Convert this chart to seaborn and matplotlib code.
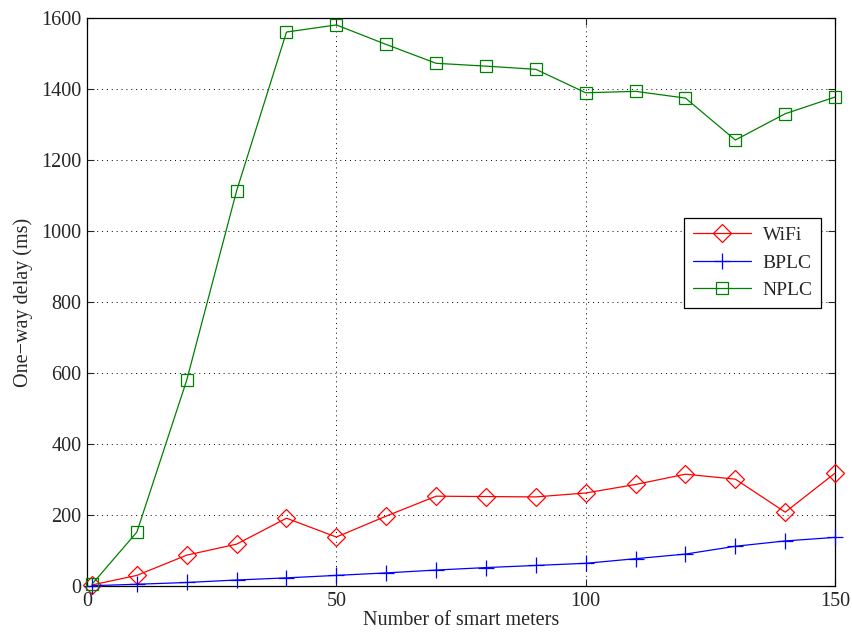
import numpy as np
import pandas as pd
import matplotlib
matplotlib.use("Agg")
import matplotlib.pyplot as plt
import seaborn as sns

# smart meters on x, one-way delay (ms) per technology
meters = [1, 10, 20, 30, 40, 50, 60, 70, 80, 90, 100, 110, 120, 130, 140, 150]
wifi = [3, 30, 87, 118, 191, 138, 197, 253, 252, 251, 262, 286, 315, 301, 208, 318]
bplc = [1, 5, 10, 17, 23, 30, 37, 45, 52, 58, 64, 77, 90, 112, 127, 137]
nplc = [5, 152, 580, 1113, 1560, 1580, 1525, 1472, 1464, 1455, 1389, 1393, 1374, 1256, 1330, 1377]

data = pd.DataFrame({'meters': meters, 'WiFi': wifi, 'BPLC': bplc, 'NPLC': nplc})

sns.set_style("ticks")
plt.rcParams['font.family'] = ['Liberation Serif', 'DejaVu Serif']
plt.rcParams['font.size'] = 14.5

fig = plt.figure(figsize=(8.53, 6.37), dpi=100)
ax = fig.add_axes([0.102, 0.080, 0.877, 0.892])

styles = {
    'WiFi': ('#ff0000', 'D', 9),
    'BPLC': ('#0000ff', '+', 11),
    'NPLC': ('#008000', 's', 8),
}
for name, (col, mk, ms) in styles.items():
    sns.lineplot(data=data, x='meters', y=name, ax=ax, color=col, marker=mk,
                 markersize=ms, linewidth=0.9, label=name, markeredgecolor=col,
                 markeredgewidth=0.9, clip_on=False)

for line in ax.lines:
    line.set_markerfacecolor('none')
    line.set_zorder(3)

ax.set_xlim(0, 150)
ax.set_ylim(0, 1600)
ax.set_xticks([0, 50, 100, 150])
ax.set_yticks(np.arange(0, 1601, 200))
ax.grid(True, linestyle=(0, (1, 4)), color='black', linewidth=0.7)
ax.tick_params(direction='in', top=True, right=True, length=5, labelsize=14.5, pad=4)
for sp in ax.spines.values():
    sp.set_linewidth(0.9)
    sp.set_color('black')

ax.set_xlabel('Number of smart meters', fontsize=14.5, labelpad=0)
ax.set_ylabel('One\u2212way delay (ms)', fontsize=14.5, labelpad=6)

leg = ax.legend(loc='upper left', bbox_to_anchor=(0.798, 0.648), borderaxespad=0,
                fancybox=False, framealpha=1, edgecolor='black', fontsize=14,
                handlelength=3.0, handletextpad=0.6, borderpad=0.45, labelspacing=0.5)
leg.get_frame().set_linewidth(0.9)

fig.savefig('out.png', dpi=100)
